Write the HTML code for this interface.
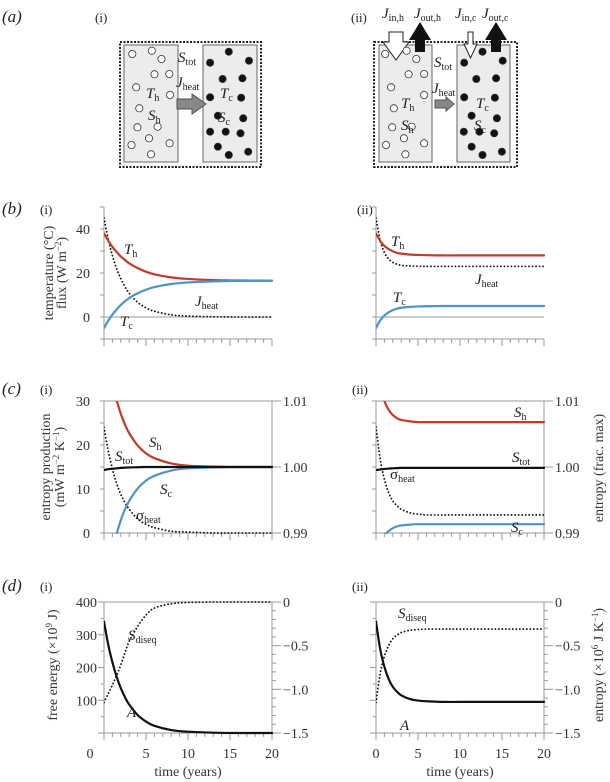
<!DOCTYPE html>
<html><head><meta charset="utf-8">
<style>
html,body{margin:0;padding:0;background:#fff;}
svg{display:block;font-family:"Liberation Serif",serif;}
</style></head>
<body>
<svg id="fig" width="610" height="782" viewBox="0 0 610 782" xmlns="http://www.w3.org/2000/svg">
<defs>
<clipPath id="c-bi"><rect x="104" y="205" width="169" height="136"/></clipPath>
<clipPath id="c-bii"><rect x="376" y="205" width="169" height="136"/></clipPath>
<clipPath id="c-ci"><rect x="104" y="401" width="169" height="133"/></clipPath>
<clipPath id="c-cii"><rect x="376" y="401" width="169" height="133"/></clipPath>
<clipPath id="c-di"><rect x="104" y="600" width="169" height="135"/></clipPath>
<clipPath id="c-dii"><rect x="376" y="600" width="169" height="135"/></clipPath>
</defs>
<g font-size="15" fill="#222">
<text x="2" y="22" font-style="italic" font-size="17">(<tspan>a</tspan>)</text>
<text x="95" y="22" font-size="13">(i)</text>
<text x="351" y="22" font-size="13">(ii)</text>
<text x="2" y="214" font-style="italic" font-size="17">(b)</text>
<text x="40" y="214" font-size="13">(i)</text>
<text x="357" y="214" font-size="13">(ii)</text>
<text x="2" y="394" font-style="italic" font-size="17">(c)</text>
<text x="40" y="394" font-size="13">(i)</text>
<text x="352" y="394" font-size="13">(ii)</text>
<text x="2" y="591" font-style="italic" font-size="17">(d)</text>
<text x="40" y="591" font-size="13">(i)</text>
<text x="352" y="591" font-size="13">(ii)</text>
</g>
<g>
<rect x="120" y="42" width="141" height="125" fill="none" stroke="#222" stroke-width="2" stroke-dasharray="2 1.5"/>
<rect x="124" y="45" width="54" height="117" fill="#ececec" stroke="#666" stroke-width="1"/>
<rect x="203" y="45" width="54" height="117" fill="#ececec" stroke="#666" stroke-width="1"/>
<polygon points="177,99 192,99 192,94 206,104 192,114 192,109 177,109" fill="#888" stroke="#555"/>
<g id="dots-i"></g>
<g font-size="15" fill="#222">
<text x="178" y="62"><tspan font-style="italic">S</tspan><tspan font-size="10" dy="3">tot</tspan></text>
<text x="176" y="87"><tspan font-style="italic">J</tspan><tspan font-size="10" dy="3">heat</tspan></text>
<text x="146" y="98"><tspan font-style="italic">T</tspan><tspan font-size="10" dy="3">h</tspan></text>
<text x="148" y="120"><tspan font-style="italic">S</tspan><tspan font-size="10" dy="3">h</tspan></text>
<text x="220" y="98"><tspan font-style="italic">T</tspan><tspan font-size="10" dy="3">c</tspan></text>
<text x="218" y="122"><tspan font-style="italic">S</tspan><tspan font-size="10" dy="3">c</tspan></text>
</g>
</g>
<g>
<rect x="374" y="42" width="143" height="125" fill="none" stroke="#222" stroke-width="2" stroke-dasharray="2 1.5"/>
<rect x="379" y="45" width="53" height="117" fill="#ececec" stroke="#666" stroke-width="1"/>
<rect x="457" y="45" width="53" height="117" fill="#ececec" stroke="#666" stroke-width="1"/>
<polygon points="435,100 446,100 446,97 454,104 446,111 446,108 435,108" fill="#888" stroke="#555"/>
<polygon points="389,32 403,32 403,42 409,42 396,60 383,42 389,42" fill="#fff" stroke="#222"/>
<polygon points="415,52 425,52 425,40 431,40 420,22 409,40 415,40" fill="#111"/>
<polygon points="468,32 473,32 473,44 477,44 470.5,58 464,44 468,44" fill="#fff" stroke="#222"/>
<polygon points="491,52 501,52 501,40 507,40 496,22 485,40 491,40" fill="#111"/>
<g id="dots-ii"></g>
<g font-size="15" fill="#222">
<text x="382" y="18"><tspan font-style="italic">J</tspan><tspan font-size="10" dy="3">in,h</tspan></text>
<text x="414" y="18"><tspan font-style="italic">J</tspan><tspan font-size="10" dy="3">out,h</tspan></text>
<text x="455" y="18"><tspan font-style="italic">J</tspan><tspan font-size="10" dy="3">in,c</tspan></text>
<text x="482" y="18"><tspan font-style="italic">J</tspan><tspan font-size="10" dy="3">out,c</tspan></text>
<text x="434" y="67"><tspan font-style="italic">S</tspan><tspan font-size="10" dy="3">tot</tspan></text>
<text x="432" y="93"><tspan font-style="italic">J</tspan><tspan font-size="10" dy="3">heat</tspan></text>
<text x="401" y="108"><tspan font-style="italic">T</tspan><tspan font-size="10" dy="3">h</tspan></text>
<text x="401" y="130"><tspan font-style="italic">S</tspan><tspan font-size="10" dy="3">h</tspan></text>
<text x="476" y="108"><tspan font-style="italic">T</tspan><tspan font-size="10" dy="3">c</tspan></text>
<text x="474" y="130"><tspan font-style="italic">S</tspan><tspan font-size="10" dy="3">c</tspan></text>
</g>
</g>
<g id="charts"></g>
</svg>
<script>
const T = [0,0.5,1,1.5,2,2.5,3,4,5,6,8,10,13,16,20];
const yearTicks = [0,1,2,3,4,5,6,7,8,9,10,11,12,13,14,15,16,17,18,19,20];
const bi_Th = [38,34.7,31.9,29.6,27.5,25.9,24.4,22.2,20.6,19.4,18.0,17.3,16.8,16.6,16.5];
const bi_Tc = [-5,-1.7,1.1,3.4,5.5,7.1,8.6,10.8,12.4,13.6,15.0,15.7,16.2,16.4,16.5];
const bi_J  = [45,35.5,27.9,22.0,17.4,13.7,10.8,6.7,4.2,2.6,1.0,0.4,0.1,0,0];
const bii_Th = [38,34.6,32.3,30.9,29.9,29.2,28.8,28.4,28.2,28.1,28,28,28,28,28];
const bii_Tc = [-5,-1.6,0.7,2.1,3.1,3.8,4.2,4.6,4.8,4.9,5,5,5,5,5];
const bii_J  = [45,34.8,29.3,26.4,24.8,24.0,23.5,23.2,23.1,23,23,23,23,23,23];
const b_leftTicks = [-10,0,10,20,30,40,50];
const b_leftLabels = [0,20,40];
const ci_Sh = [45,38.9,34.0,30.2,27.1,24.6,22.7,19.9,18.1,17.0,15.8,15.3,15.1,15,15];
const ci_Sc = [-15,-8.9,-4.0,-0.2,2.9,5.4,7.3,10.1,11.9,13.0,14.2,14.7,14.9,15,15];
const ci_Stot = [14.3,14.5,14.6,14.7,14.8,14.85,14.9,14.95,15,15,15,15,15,15,15];
const ci_sig = [24,18.7,14.6,11.3,8.8,6.9,5.4,3.2,2.0,1.2,0.4,0.2,0,0,0];
const cii_Sh = [39.8,33.6,30.0,28.0,26.8,26.1,25.7,25.4,25.2,25.2,25.2,25.2,25.2,25.2,25.2];
const cii_Sc = [-12,-4.5,-0.8,0.4,1.1,1.5,1.7,1.9,2.0,2.0,2.0,2.0,2.0,2.0,2.0];
const cii_Stot = [14.3,14.45,14.55,14.65,14.7,14.75,14.8,14.8,14.8,14.8,14.8,14.8,14.8,14.8,14.8];
const cii_sig = [24.1,16.8,12.2,9.2,7.3,6.2,5.4,4.6,4.3,4.1,4.1,4.1,4.1,4.1,4.1];
const c_leftTicks = [0,5,10,15,20,25,30];
const c_leftLabels = [0,10,20,30];
const c_rightLabels = ["0.99","1.00","1.01"];
const c_rightValues = [0.99,1.00,1.01];
const di_A = [340,270,216,172,137,109,87,55,35,22,9,4,1,0,0];
const di_S = [-1.15,-1.05,-0.95,-0.84,-0.72,-0.58,-0.45,-0.28,-0.15,-0.07,-0.02,-0.005,0,0,0];
const dii_A = [340,256,202,165,141,126,115,104,99,97,95,95,95,95,95];
const dii_S = [-1.15,-0.82,-0.62,-0.50,-0.42,-0.38,-0.35,-0.325,-0.315,-0.31,-0.31,-0.31,-0.31,-0.31,-0.31];
const d_leftTicks = [0,50,100,150,200,250,300,350,400];
const d_leftLabels = [100,200,300,400];
const d_rightTicks = [0,-0.1,-0.2,-0.3,-0.4,-0.5,-0.6,-0.7,-0.8,-0.9,-1.0,-1.1,-1.2,-1.3,-1.4,-1.5];
const d_rightLabels = ["0","\u22120.5","\u22121.0","\u22121.5"];
const d_rightLabelValues = [0,-0.5,-1.0,-1.5];
const d_xLabels = [0,5,10,15,20];

const whiteDots = [[340,162],[390,152],[415,177],[397,223],[435,222],[350,262],[437,285],[358,325],[353,382],[405,380],[383,415],[338,435],[436,430],[388,463]];
const blackDots = [[588,155],[540,188],[640,182],[572,237],[623,235],[540,292],[620,293],[560,347],[625,355],[540,395],[580,395],[618,400],[560,440],[588,465],[638,455]];
const whiteII = [[990,162],[1045,152],[1070,177],[1050,223],[1090,222],[1005,262],[1090,285],[1012,325],[1008,382],[1058,380],[1038,415],[992,435],[1090,430],[1042,463]];
const blackII = [[1240,155],[1193,188],[1292,182],[1224,237],[1275,235],[1193,292],[1272,293],[1212,347],[1277,355],[1192,395],[1232,395],[1270,400],[1212,440],[1240,465],[1290,455]];

const NS = "http://www.w3.org/2000/svg";
const charts = document.getElementById('charts');
function mk(tag, attrs, parent){
  const e = document.createElementNS(NS, tag);
  for (const k in attrs) e.setAttribute(k, attrs[k]);
  (parent||charts).appendChild(e);
  return e;
}
function dots(gid, list, fill){
  const g = document.getElementById(gid);
  list.forEach(p=>{
    const c = mk('circle',{cx:(p[0]/2.57).toFixed(1), cy:(p[1]/3).toFixed(1), r:3.6, fill:fill, stroke:'#333','stroke-width':0.8}, g);
    
    
  });
}
dots('dots-i', whiteDots, '#fff');
dots('dots-i', blackDots, '#111');
dots('dots-ii', whiteII, '#fff');
dots('dots-ii', blackII, '#111');

const AX = '#9a9a9a';
const W = 168;
function xs(x0){ return t => x0 + t/20*W; }
function smooth(pts){
  let d = 'M'+pts[0][0].toFixed(2)+','+pts[0][1].toFixed(2);
  for (let i=0;i<pts.length-1;i++){
    const p0=pts[Math.max(i-1,0)], p1=pts[i], p2=pts[i+1], p3=pts[Math.min(i+2,pts.length-1)];
    const c1=[p1[0]+(p2[0]-p0[0])/6, p1[1]+(p2[1]-p0[1])/6];
    const c2=[p2[0]-(p3[0]-p1[0])/6, p2[1]-(p3[1]-p1[1])/6];
    d += ' C'+c1[0].toFixed(2)+','+c1[1].toFixed(2)+' '+c2[0].toFixed(2)+','+c2[1].toFixed(2)+' '+p2[0].toFixed(2)+','+p2[1].toFixed(2);
  }
  return d;
}
function series(name, xf, yf, vals, style, clip){
  const pts = T.map((t,i)=>[xf(t), yf(vals[i])]);
  const p = mk('path', Object.assign({d:smooth(pts), fill:'none', 'clip-path':'url(#'+clip+')', 'stroke-linecap':'round'}, style));
  
  
}
const RED={stroke:'#c43a2a','stroke-width':2.2};
const BLUE={stroke:'#4f93c8','stroke-width':2.2};
const BLK={stroke:'#111','stroke-width':2.2};
const DOT={stroke:'#111','stroke-width':1.8,'stroke-dasharray':'0.1 3.4'};

function line(name,x1,y1,x2,y2,w){
  const l = mk('line',{x1:x1,y1:y1,x2:x2,y2:y2,stroke:AX,'stroke-width':w||1});
  
  
}
function txt(name,x,y,s,anchor,size){
  const t = mk('text',{x:x,y:y,'text-anchor':anchor||'start','font-size':size||14,fill:'#333'});
  t.textContent = s;
  
  
  return t;
}
function curveLabel(name,x,y,main,sub,greek){
  const t = mk('text',{x:x,y:y,'font-size':15,fill:'#222'});
  const a = mk('tspan',{'font-style':greek?'normal':'italic'},t); a.textContent=main;
  const b = mk('tspan',{'font-size':10,dy:3},t); b.textContent=sub;
  
  
}
function vtitle(name,x,y,parts){
  const t = mk('text',{x:x,y:y,'text-anchor':'middle','font-size':14,fill:'#333',transform:'rotate(-90 '+x+' '+y+')'});
  parts.forEach(p=>{ const s=mk('tspan',p[1]||{},t); s.textContent=p[0]; });
  
  
}
function xAxis(prefix,x0,y){
  const xf = xs(x0);
  line(prefix+'-x-axis', x0, y, x0+W, y);
  yearTicks.forEach(t=>{
    const maj = t%5===0;
    line(prefix+'-x-tick', xf(t), y, xf(t), y+(maj?7:4));
  });
}

const yb = v => 317 - v*2.2;
[['bi',104,bi_Th,bi_Tc,bi_J,'c-bi'],['bii',376,bii_Th,bii_Tc,bii_J,'c-bii']].forEach((c,k)=>{
  const x0=c[1], xf=xs(x0);
  line(c[0]+'-y-axis', x0, yb(50), x0, yb(-10));
  b_leftTicks.forEach(v=>line(c[0]+'-y-tick', x0-4, yb(v), x0, yb(v)));
  line(c[0]+'-zero-line', x0, yb(0), x0+W, yb(0));
  xAxis(c[0], x0, 339);
  if(k===0) b_leftLabels.forEach(v=>txt('b-y-tick-label', 90, yb(v)+5, String(v), 'end'));
  series(c[0]+'-j-heat', xf, yb, c[4], DOT, c[5]);
  series(c[0]+'-t-h', xf, yb, c[2], RED, c[5]);
  series(c[0]+'-t-c', xf, yb, c[3], BLUE, c[5]);
});
vtitle('b-y-title-1', 53, 273, [['temperature (°C)']]);
vtitle('b-y-title-2', 66, 273, [['flux (W m'],['−2',{dy:-5,'font-size':9}],[')',{dy:5}]]);
curveLabel('b-i-th-label',124,254,'T','h');
curveLabel('b-i-jheat-label',195,306,'J','heat');
curveLabel('b-i-tc-label',120,326,'T','c');
curveLabel('b-ii-th-label',391,246,'T','h');
curveLabel('b-ii-jheat-label',475,284,'J','heat');
curveLabel('b-ii-tc-label',393,302,'T','c');

const yc = v => 533 - v*4.4;
const ycr = v => 533 - (v-0.99)/0.02*132;
[['ci',104,ci_Sh,ci_Sc,ci_Stot,ci_sig,'c-ci'],['cii',376,cii_Sh,cii_Sc,cii_Stot,cii_sig,'c-cii']].forEach((c,k)=>{
  const x0=c[1], xf=xs(x0);
  line(c[0]+'-y-axis', x0, yc(30), x0, yc(0));
  c_leftTicks.forEach(v=>line(c[0]+'-y-tick', x0-4, yc(v), x0, yc(v)));
  line(c[0]+'-top-line', x0, yc(30), x0+W, yc(30));
  line(c[0]+'-right-axis', x0+W, yc(30), x0+W, yc(0));
  c_rightValues.forEach(v=>line(c[0]+'-right-tick', x0+W, ycr(v), x0+W+9, ycr(v)));
  c_rightLabels.forEach((s,i)=>txt('c-right-tick-label', x0+W+11, ycr(c_rightValues[i])+5, s, 'start'));
  xAxis(c[0], x0, 533);
  if(k===0) c_leftLabels.forEach(v=>txt('c-y-tick-label', 90, yc(v)+5, String(v), 'end'));
  series(c[0]+'-sigma-heat', xf, yc, c[5], DOT, c[6]);
  series(c[0]+'-s-h', xf, yc, c[2], RED, c[6]);
  series(c[0]+'-s-c', xf, yc, c[3], BLUE, c[6]);
  series(c[0]+'-s-tot', xf, yc, c[4], BLK, c[6]);
});
vtitle('c-y-title-1', 50, 467, [['entropy production']]);
vtitle('c-y-title-2', 64, 467, [['(mW m'],['−2',{dy:-5,'font-size':9}],[' K',{dy:5}],['−1',{dy:-5,'font-size':9}],[')',{dy:5}]]);
vtitle('c-right-title', 603, 468, [['entropy (frac. max)']]);
curveLabel('ci-sh-label',149,447,'S','h');
curveLabel('ci-stot-label',115,461,'S','tot');
curveLabel('ci-sc-label',160,494,'S','c');
curveLabel('ci-sigma-label',136,520,'σ','heat',true);
curveLabel('cii-sh-label',514,417,'S','h');
curveLabel('cii-stot-label',512,462,'S','tot');
curveLabel('cii-sigma-label',390,479,'σ','heat',true);
curveLabel('cii-sc-label',511,532,'S','c');

const yd = v => 733 - v*131/400;
const ydr = v => 602 - v*131/1.5;
[['di',104,di_A,di_S,'c-di'],['dii',376,dii_A,dii_S,'c-dii']].forEach((c,k)=>{
  const x0=c[1], xf=xs(x0);
  line(c[0]+'-y-axis', x0, yd(400), x0, yd(0));
  d_leftTicks.forEach(v=>line(c[0]+'-y-tick', x0-(v%100===0?6:3), yd(v), x0, yd(v)));
  line(c[0]+'-top-line', x0, yd(400), x0+W, yd(400));
  line(c[0]+'-right-axis', x0+W, ydr(0), x0+W, ydr(-1.5));
  d_rightTicks.forEach((v,i)=>line(c[0]+'-right-tick', x0+W, ydr(v), x0+W+(i%5===0?9:4), ydr(v)));
  d_rightLabels.forEach((s,i)=>txt('d-right-tick-label', x0+W+11, ydr(d_rightLabelValues[i])+5, s, 'start'));
  xAxis(c[0], x0, 733);
  d_xLabels.forEach(v=>{
    const px = (k===0 && v===0) ? 90 : xf(v);
    txt('d-x-tick-label', px, 758, String(v), 'middle');
  });
  txt(c[0]+'-x-title', x0+84, 776, 'time (years)', 'middle');
  if(k===0) d_leftLabels.forEach(v=>txt('d-y-tick-label', 97, yd(v)+5, String(v), 'end'));
  series(c[0]+'-s-diseq', xf, ydr, c[3], DOT, c[4]);
  series(c[0]+'-free-energy', xf, yd, c[2], BLK, c[4]);
});
vtitle('d-y-title', 57, 665, [['free energy (×10'],['9',{dy:-5,'font-size':9}],[' J)',{dy:5}]]);
vtitle('d-right-title', 603, 665, [['entropy (×10'],['6',{dy:-5,'font-size':9}],[' J K',{dy:5}],['−1',{dy:-5,'font-size':9}],[')',{dy:5}]]);
curveLabel('di-sdiseq-label',128,640,'S','diseq');
curveLabel('di-a-label',127,717,'A','');
curveLabel('dii-sdiseq-label',398,618,'S','diseq');
curveLabel('dii-a-label',400,730,'A','');
</script>
</body></html>
